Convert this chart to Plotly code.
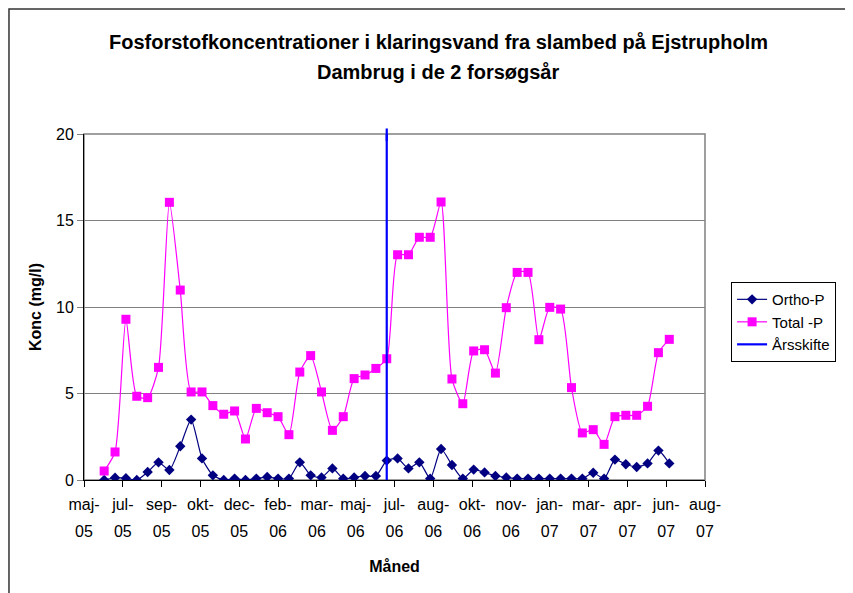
import plotly.graph_objects as go

# ---- data ----
sample_dates = [
    "2005-06-22", "2005-07-06", "2005-07-20", "2005-08-03", "2005-08-17", "2005-08-31",
    "2005-09-14", "2005-09-28", "2005-10-12", "2005-10-26", "2005-11-09", "2005-11-23",
    "2005-12-07", "2005-12-21", "2006-01-04", "2006-01-18", "2006-02-01", "2006-02-15",
    "2006-03-01", "2006-03-15", "2006-03-29", "2006-04-12", "2006-04-26", "2006-05-10",
    "2006-05-24", "2006-06-07", "2006-06-21", "2006-07-05", "2006-07-19", "2006-08-02",
    "2006-08-16", "2006-08-30", "2006-09-13", "2006-09-27", "2006-10-11", "2006-10-25",
    "2006-11-08", "2006-11-22", "2006-12-06", "2006-12-20", "2007-01-03", "2007-01-17",
    "2007-01-31", "2007-02-14", "2007-02-28", "2007-03-14", "2007-03-28", "2007-04-11",
    "2007-04-25", "2007-05-09", "2007-05-23", "2007-06-06", "2007-06-20",
]
ortho_p = [
    0.0, 0.13, 0.1, 0.0, 0.46, 1.02, 0.58, 1.95, 3.49, 1.25, 0.27, 0.0, 0.08, 0.0,
    0.08, 0.17, 0.08, 0.08, 1.02, 0.27, 0.15, 0.67, 0.08, 0.15, 0.23, 0.23, 1.12,
    1.25, 0.67, 1.02, 0.08, 1.79, 0.87, 0.08, 0.6, 0.44, 0.23, 0.15, 0.08, 0.08,
    0.08, 0.08, 0.08, 0.08, 0.08, 0.42, 0.08, 1.18, 0.91, 0.75, 0.96, 1.7, 0.96,
]
total_p = [
    0.52, 1.62, 9.29, 4.84, 4.76, 6.51, 16.05, 10.98, 5.09, 5.09, 4.3, 3.8, 3.99, 2.37,
    4.14, 3.89, 3.66, 2.62, 6.24, 7.19, 5.09, 2.87, 3.66, 5.86, 6.07, 6.45, 7.01,
    13.02, 13.02, 14.03, 14.03, 16.07, 5.84, 4.41, 7.46, 7.53, 6.18, 9.96, 12.0, 12.0,
    8.11, 9.98, 9.88, 5.34, 2.72, 2.91, 2.06, 3.66, 3.74, 3.74, 4.26, 7.36, 8.13,
]
year_change_date = "2006-06-21"
year_change_y = [0, 20]

tick_dates = [
    "2005-05-27", "2005-07-16", "2005-09-04", "2005-10-24", "2005-12-13", "2006-02-01",
    "2006-03-23", "2006-05-12", "2006-07-01", "2006-08-20", "2006-10-09", "2006-11-28",
    "2007-01-17", "2007-03-08", "2007-04-27", "2007-06-16", "2007-08-05",
]
tick_months = ["maj-", "jul-", "sep-", "okt-", "dec-", "feb-", "mar-", "maj-", "jul-",
               "aug-", "okt-", "nov-", "jan-", "mar-", "apr-", "jun-", "aug-"]
tick_years = ["05", "05", "05", "05", "05", "06", "06", "06", "06",
              "06", "06", "06", "07", "07", "07", "07", "07"]
y_ticks = [0, 5, 10, 15, 20]

FONT = "Liberation Sans, Arial, sans-serif"

fig = go.Figure()
fig.add_trace(go.Scatter(
    x=sample_dates, y=ortho_p, name="Ortho-P", mode="lines+markers",
    line=dict(color="#000080", width=1.2, shape="spline", smoothing=0.6),
    marker=dict(symbol="diamond", size=8, color="#000080"),
))
fig.add_trace(go.Scatter(
    x=sample_dates, y=total_p, name="Total -P", mode="lines+markers",
    line=dict(color="#FF00FF", width=1.2, shape="spline", smoothing=0.6),
    marker=dict(symbol="square", size=9, color="#FF00FF"),
))
fig.add_trace(go.Scatter(
    x=[year_change_date, year_change_date], y=year_change_y, name="Årsskifte",
    mode="lines", line=dict(color="#0000FF", width=2.2),
))
# dummy trace to hold the second-row (year) tick labels axis
fig.add_trace(go.Scatter(
    x=[tick_dates[0]], y=[None], xaxis="x2", mode="markers",
    showlegend=False, hoverinfo="skip",
))

# extension of the year-change line above the plot top
fig.add_shape(type="line", xref="x", yref="paper",
              x0=year_change_date, x1=year_change_date, y0=0.98, y1=1.016,
              line=dict(color="#0000FF", width=2.2))
# plot area border (grey)
fig.add_shape(type="rect", xref="paper", yref="paper", x0=0, x1=1, y0=0, y1=1,
              line=dict(color="#808080", width=1.5), layer="below")
# chart area border
fig.add_shape(type="rect", xref="paper", yref="paper",
              x0=-0.1208, x1=1.3, y0=-0.4, y1=1.361,
              line=dict(color="#333333", width=1.5), layer="below")

rng = [tick_dates[0], tick_dates[-1]]
fig.update_layout(
    width=853, height=593,
    margin=dict(l=76, r=156, t=126, b=121, autoexpand=False),
    paper_bgcolor="white", plot_bgcolor="white",
    font=dict(family=FONT, size=16, color="black"),
    showlegend=True,
    legend=dict(
        x=1.042, y=0.572, xanchor="left", yanchor="top",
        bordercolor="black", borderwidth=1, bgcolor="white",
        font=dict(family=FONT, size=15, color="black"),
        tracegroupgap=0, itemwidth=30,
    ),
    xaxis=dict(
        range=rng, tickmode="array", tickvals=tick_dates, ticktext=tick_months,
        showgrid=False, showline=True, linecolor="black", linewidth=1,
        ticks="outside", ticklen=6, tickcolor="black", tickangle=0,
        tickfont=dict(size=16), ticklabelstandoff=4, automargin=False,
        title=dict(text="<b>Måned</b>", font=dict(size=16), standoff=48),
        zeroline=False,
    ),
    xaxis2=dict(
        range=rng, overlaying="x", anchor="y", side="bottom",
        tickmode="array", tickvals=tick_dates, ticktext=tick_years,
        showgrid=False, showline=False, ticks="", tickangle=0, automargin=False,
        ticklabelstandoff=40, tickfont=dict(size=16), zeroline=False,
    ),
    yaxis=dict(
        range=[0, 20], tickmode="array", tickvals=y_ticks,
        showgrid=True, gridcolor="#808080", gridwidth=1,
        showline=True, linecolor="black", linewidth=1,
        ticks="outside", ticklen=6, tickcolor="#808080",
        tickfont=dict(size=16), automargin=False,
        title=dict(text="<b>Konc (mg/l)</b>", font=dict(size=16), standoff=10),
        zeroline=False,
    ),
    annotations=[
        dict(text="<b>Fosforstofkoncentrationer i klaringsvand fra slambed på Ejstrupholm</b>",
             xref="paper", yref="paper", x=(438 - 84) / 621, y=(480 - 42) / 346,
             xanchor="center", yanchor="middle", showarrow=False,
             font=dict(family=FONT, size=20, color="black")),
        dict(text="<b>Dambrug i de 2 forsøgsår</b>",
             xref="paper", yref="paper", x=(438 - 84) / 621, y=(480 - 72) / 346,
             xanchor="center", yanchor="middle", showarrow=False,
             font=dict(family=FONT, size=20, color="black")),
    ],
)

fig.write_html("out.html")
